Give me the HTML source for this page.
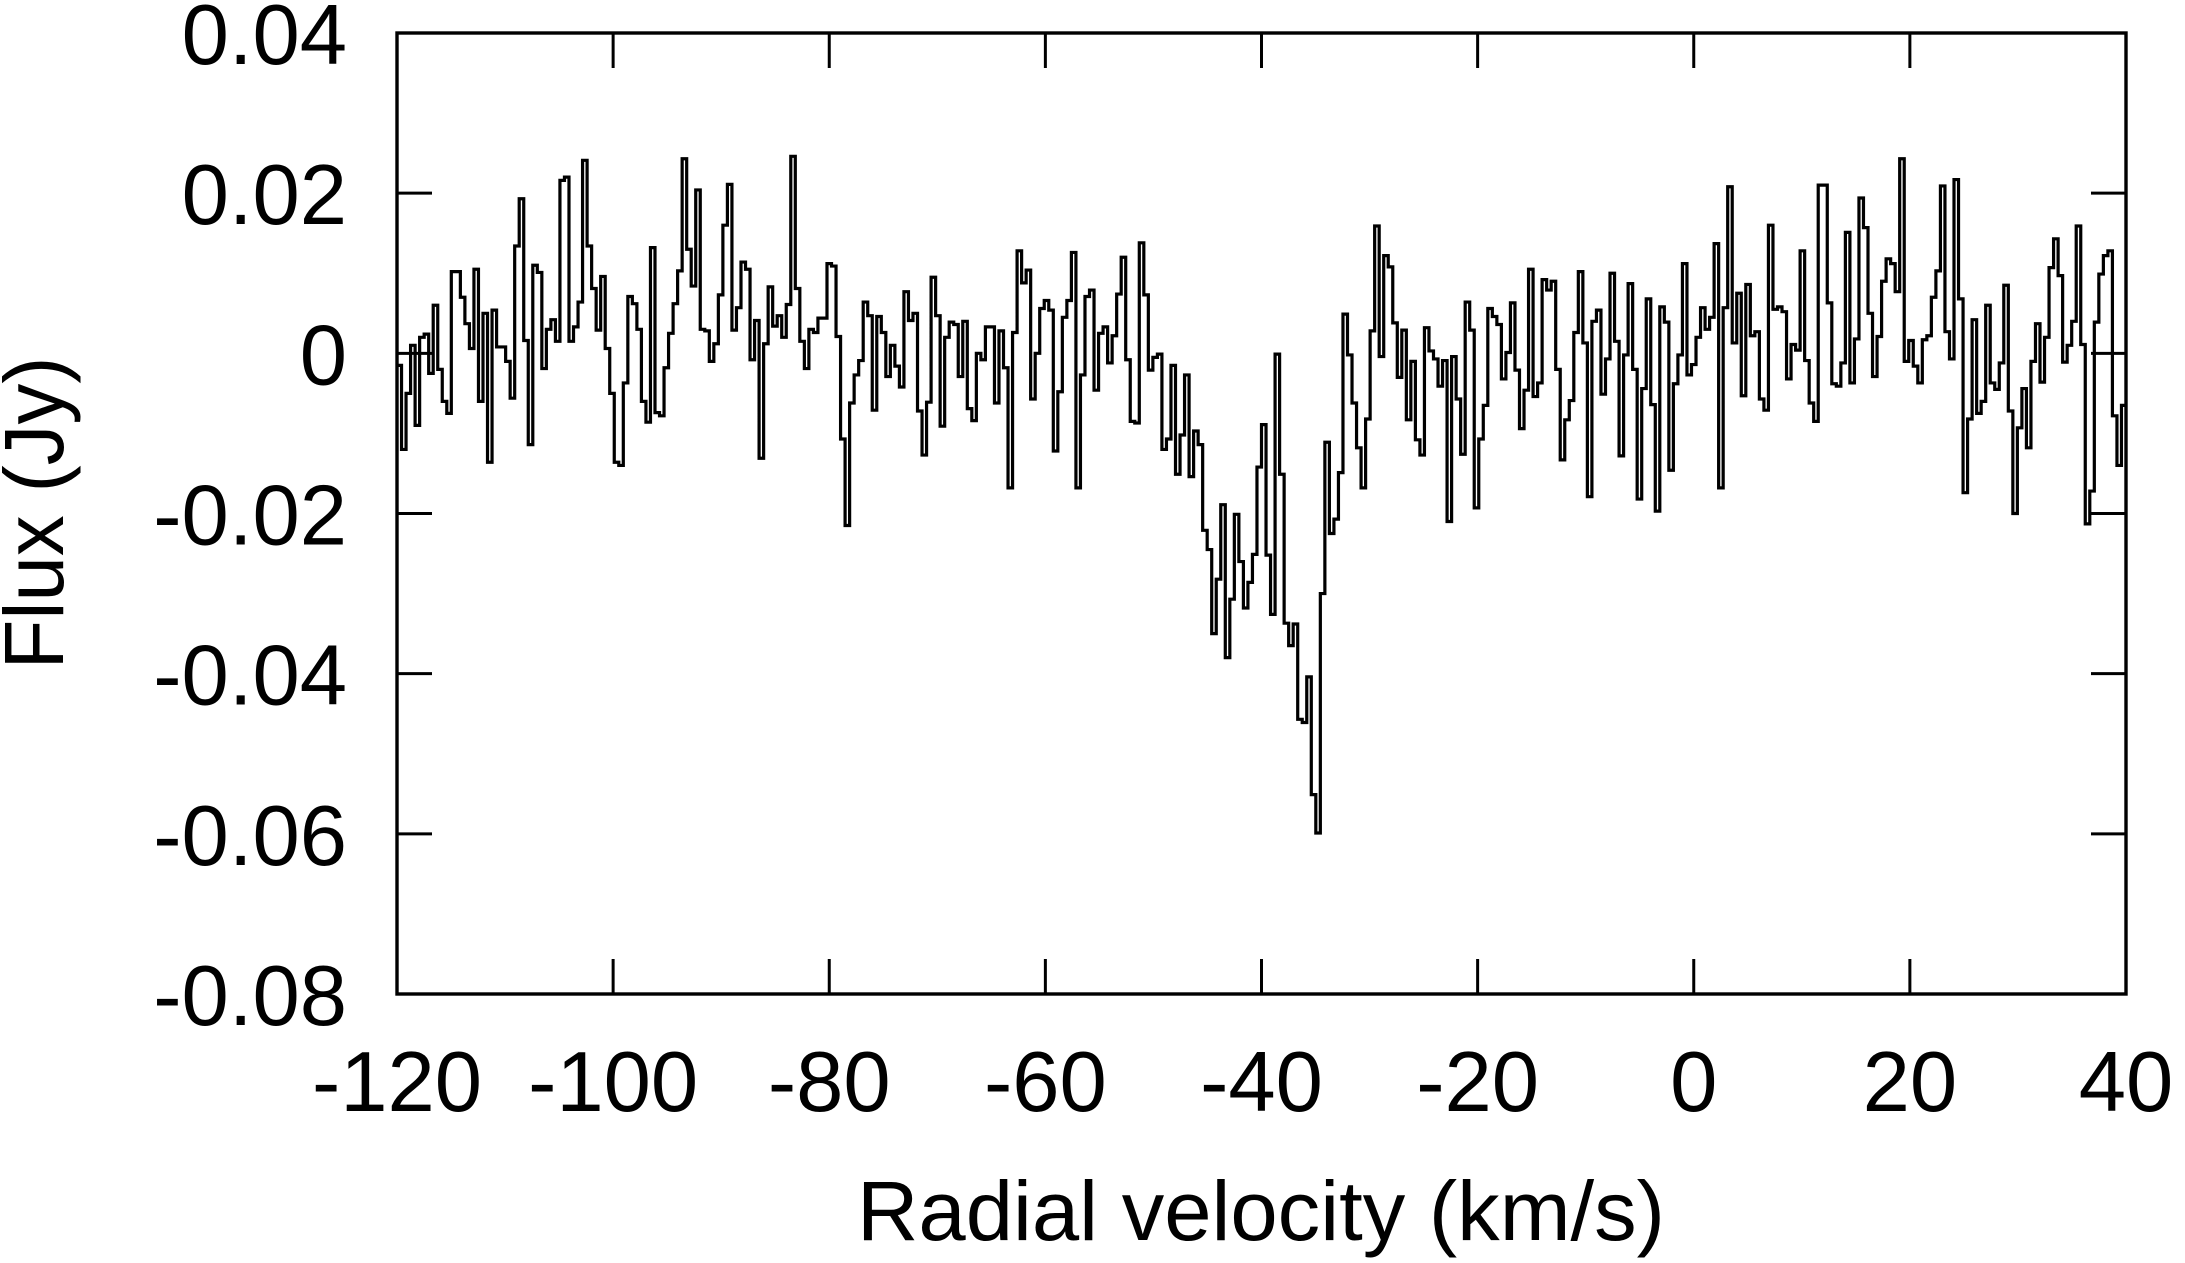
<!DOCTYPE html>
<html><head><meta charset="utf-8">
<style>
html,body{margin:0;padding:0;background:#fff;}
svg{display:block;}
text{font-family:"Liberation Sans",Arial,sans-serif;fill:#000;}
</style></head>
<body>
<svg id="chart" width="2185" height="1263" viewBox="0 0 2185 1263" xmlns="http://www.w3.org/2000/svg">
  <rect x="0" y="0" width="2185" height="1263" fill="#fff"/>
  <g id="ticks"></g>
  <g id="labels"></g>
  <path id="series" fill="none" stroke="#000" stroke-width="3.2" stroke-linejoin="miter"/>
  <rect x="397" y="33" width="1729" height="961" fill="none" stroke="#000" stroke-width="3.4"/>
  <text x="1261" y="1240" font-size="84" text-anchor="middle" textLength="808" lengthAdjust="spacingAndGlyphs">Radial velocity (km/s)</text>
  <text x="0" y="0" font-size="84" text-anchor="middle" textLength="313" lengthAdjust="spacingAndGlyphs" transform="translate(63,513) rotate(-90)">Flux (Jy)</text>
</svg>
<script>
const xTicks = [-120, -100, -80, -60, -40, -20, 0, 20, 40];
const yTicks = [0.04, 0.02, 0, -0.02, -0.04, -0.06, -0.08];
const yTickLabels = ["0.04", "0.02", "0", "-0.02", "-0.04", "-0.06", "-0.08"];
const velocityStart = -120;
const velocityEnd = 40;
const fluxSeg1 = [-0.0015,-0.012,-0.005,0.001,-0.009,0.002,0.0024,-0.0025,0.006,-0.002,-0.006,-0.0075,0.0102,0.0102,0.007,0.0037,0.0006,0.0105,-0.006,0.005,-0.0136,0.0054,0.0008,0.0008,-0.001,-0.0056,0.0134,0.0193,0.0016,-0.0114,0.011,0.0101,-0.0019,0.003,0.0042,0.0015,0.0216,0.022,0.0015,0.0033,0.0064,0.0241,0.0134,0.0081,0.0029,0.0096,0.0006,-0.005,-0.0136,-0.014,-0.0037,0.0071,0.0062,0.003,-0.006,-0.0086,0.0132,-0.0074,-0.0078,-0.0018,0.0025,0.0062,0.0103,0.0243,0.013,0.0084];
const fluxSeg2 = [0.0204,0.003,0.0028,-0.001,0.0012,0.0073,0.016,0.0211,0.0029,0.0057,0.0114,0.0105,-0.0008,0.0041,-0.0131,0.0012,0.0083,0.0034,0.0047,0.002,0.0061,0.0246,0.0081,0.0015,-0.0019,0.003,0.0026,0.0044,0.0044,0.0112,0.0109,0.0021,-0.0107,-0.0215,-0.0062,-0.0027,-0.0009,0.0064,0.0047,-0.0071,0.0046,0.0026,-0.0029,0.001,-0.0016,-0.0042,0.0077,0.0041,0.005,-0.0072,-0.0127,-0.0061,0.0095,0.0047,-0.0091,0.002,0.0039,0.0036,-0.0029,0.004,-0.0069,-0.0084,0,-0.0008,0.0033];
const fluxSeg3 = [0.0033,-0.0062,0.0028,-0.0018,-0.0168,0.0026,0.0128,0.0088,0.0104,-0.0057,0,0.0056,0.0066,0.0054,-0.0122,-0.0048,0.0045,0.0066,0.0126,-0.0168,-0.0027,0.0071,0.0079,-0.0046,0.0025,0.0033,-0.0012,0.0022,0.0074,0.012,-0.0008,-0.0085,-0.0087,0.0138,0.0073,-0.0021,-0.0005,-0.0001,-0.012,-0.0107,-0.0015,-0.0151,-0.0102,-0.0027,-0.0154,-0.0097,-0.0114,-0.0221,-0.0245,-0.035,-0.0282,-0.0189,-0.038,-0.0307,-0.0201,-0.026,-0.0318,-0.0286,-0.0251,-0.0142,-0.0089,-0.0252,-0.0326,-0.0001,-0.0151,-0.0337,-0.0365,-0.0338,-0.0457,-0.0461,-0.0404,-0.0551,-0.0599,-0.03,-0.0111,-0.0225,-0.0207,-0.0149];
const fluxSeg4 = [0.0049,-0.0002,-0.0062,-0.0118,-0.0168,-0.0082,0.0028,0.0159,-0.0004,0.0122,0.0108,0.0038,-0.003,0.0029,-0.0083,-0.001,-0.0108,-0.0127,0.0032,0.0003,-0.0007,-0.0041,-0.0009,-0.021,-0.0004,-0.0057,-0.0126,0.0064,0.0029,-0.0193,-0.0107,-0.0065,0.0056,0.0046,0.0036,-0.0032,0.0001,0.0063,-0.0021,-0.0094,-0.0046,0.0105,-0.0054,-0.0037,0.0092,0.0079,0.009,-0.002,-0.0133,-0.0083,-0.0059,0.0026,0.0102,0.0013,-0.0179,0.004,0.0054,-0.0051];
const fluxSeg5 = [-0.0007,0.01,0.0015,-0.0128,-0.0002,0.0087,-0.002,-0.0182,-0.0044,0.0068,-0.0064,-0.0197,0.0058,0.0039,-0.0146,-0.0038,-0.0002,0.0112,-0.0027,-0.0014,0.002,0.0057,0.003,0.0045,0.0137,-0.0168,0.0057,0.0208,0.0013,0.0075,-0.0053,0.0086,0.0022,0.0027,-0.0057,-0.0071,0.016,0.0055,0.0058,0.0052,-0.0032,0.0011,0.0004,0.0128,-0.0009,-0.0062,-0.0085,0.021,0.021,0.0063,-0.0038,-0.0041,-0.0012,0.0151,-0.0037,0.0018,0.0194];
const fluxSeg6 = [0.0157,0.005,-0.0029,0.0021,0.009,0.0118,0.0112,0.0077,0.0243,-0.001,0.0016,-0.0016,-0.0037,0.0017,0.0022,0.007,0.0103,0.0209,0.0027,-0.0007,0.0217,0.0068,-0.0174,-0.0082,0.0042,-0.0075,-0.006,0.006,-0.0037,-0.0045,-0.0012,0.0085,-0.0072,-0.02,-0.0093,-0.0044,-0.0118,-0.001,0.0037,-0.0036,0.002,0.0107,0.0143,0.0097,-0.0011,0.001,0.004,0.0159,0.0011,-0.0213,-0.0172,0.0039,0.0099,0.0122,0.0128,-0.0078,-0.014,-0.0065];

const flux = [].concat(fluxSeg1, fluxSeg2, fluxSeg3, fluxSeg4, fluxSeg5, fluxSeg6);

const PL = 397, PR = 2126, PT = 33, PB = 994;
const xMin = -120, xMax = 40, yMin = -0.08, yMax = 0.04;
function xScale(v){ return PL + (v - xMin) / (xMax - xMin) * (PR - PL); }
function yScale(v){ return PB - (v - yMin) / (yMax - yMin) * (PB - PT); }

const NS = "http://www.w3.org/2000/svg";
const tickG = document.getElementById('ticks');
const labG = document.getElementById('labels');
const TL = 35;

xTicks.forEach(function(t){
  const x = xScale(t);
  const p = document.createElementNS(NS, 'path');
  p.setAttribute('d', 'M' + x + ' ' + PB + 'V' + (PB - TL) + 'M' + x + ' ' + PT + 'V' + (PT + TL));
  p.setAttribute('stroke', '#000');
  p.setAttribute('stroke-width', '3');
  
  
  tickG.appendChild(p);
  const tx = document.createElementNS(NS, 'text');
  tx.setAttribute('x', x);
  tx.setAttribute('y', 1111);
  tx.setAttribute('font-size', '85');
  tx.setAttribute('text-anchor', 'middle');
  tx.textContent = String(t);
  
  
  labG.appendChild(tx);
});

yTicks.forEach(function(t, i){
  const y = yScale(t);
  const p = document.createElementNS(NS, 'path');
  p.setAttribute('d', 'M' + PL + ' ' + y + 'H' + (PL + TL) + 'M' + PR + ' ' + y + 'H' + (PR - TL));
  p.setAttribute('stroke', '#000');
  p.setAttribute('stroke-width', '3');
  
  
  tickG.appendChild(p);
  const tx = document.createElementNS(NS, 'text');
  tx.setAttribute('x', 347);
  tx.setAttribute('y', y + 31);
  tx.setAttribute('font-size', '85');
  tx.setAttribute('text-anchor', 'end');
  tx.textContent = yTickLabels[i];
  
  
  labG.appendChild(tx);
});

const N = flux.length;
const w = (velocityEnd - velocityStart) / N;
let d = '';
for (let i = 0; i < N; i++) {
  const x0 = xScale(velocityStart + i * w);
  const x1 = xScale(velocityStart + (i + 1) * w);
  const y = yScale(flux[i]);
  d += (i === 0 ? 'M' + x0.toFixed(2) + ' ' + y.toFixed(2) : 'V' + y.toFixed(2)) + 'H' + x1.toFixed(2);
}
document.getElementById('series').setAttribute('d', d);
</script>
</body></html>
